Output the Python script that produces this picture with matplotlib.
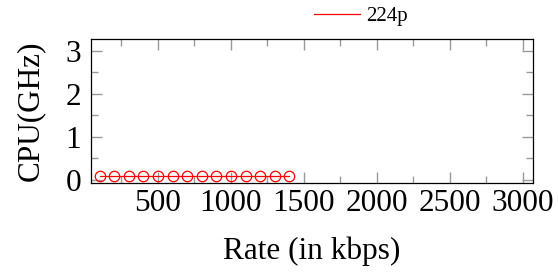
import matplotlib.pyplot as plt
from matplotlib.ticker import MultipleLocator

plt.rcParams['font.family'] = ['Liberation Serif', 'DejaVu Serif']

# data
rate_224p = [100, 200, 300, 400, 500, 600, 700, 800, 900, 1000, 1100, 1200, 1300, 1400]
cpu_224p = [0.1, 0.1, 0.1, 0.1, 0.1, 0.1, 0.1, 0.1, 0.1, 0.1, 0.1, 0.1, 0.1, 0.1]

fig = plt.figure(figsize=(5.58, 2.76), dpi=100)
ax = fig.add_axes([0.163, 0.337, 0.792, 0.522])

ax.plot(rate_224p, cpu_224p, color='red', lw=0.9, marker='o', markersize=7.5,
        markerfacecolor='none', markeredgecolor='red', markeredgewidth=0.9, label='224p')

ax.set_xlim(41, 3068)
ax.set_ylim(-0.07, 3.28)
ax.xaxis.set_major_locator(MultipleLocator(500))
ax.xaxis.set_minor_locator(MultipleLocator(250))
ax.yaxis.set_major_locator(MultipleLocator(1))
ax.yaxis.set_minor_locator(MultipleLocator(0.5))

ax.tick_params(which='both', direction='in', top=True, right=True, color='#999999', width=1.0)
ax.tick_params(which='major', length=8, labelsize=22.5)
ax.tick_params(axis='x', which='major', pad=4)
ax.tick_params(axis='y', which='major', pad=7)
ax.tick_params(which='minor', length=5)
for s in ax.spines.values():
    s.set_linewidth(0.9)

ax.set_xlabel('Rate (in kbps)', fontsize=22.5, labelpad=14)
ax.set_ylabel('CPU(GHz)', fontsize=22.5, labelpad=15)

ax.legend(loc='center left', bbox_to_anchor=(0.505, 1.155), frameon=False, fontsize=15,
          handlelength=2.2, handletextpad=0.3, borderaxespad=0, borderpad=0)
leg = ax.get_legend()
for h in leg.legend_handles:
    h.set_marker('')

plt.savefig('out.png', dpi=100)
